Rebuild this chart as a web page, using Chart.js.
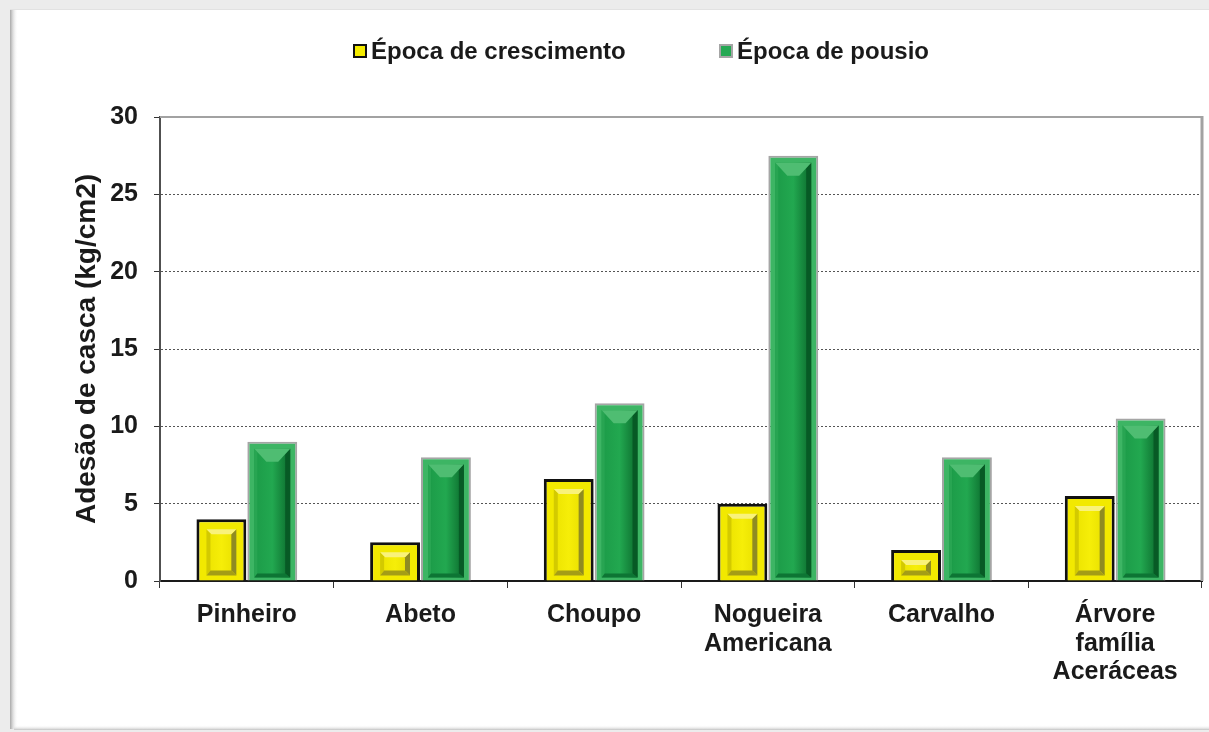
<!DOCTYPE html>
<html>
<head>
<meta charset="utf-8">
<script src="https://cdn.jsdelivr.net/npm/chart.js@4.4.0/dist/chart.umd.min.js"></script>
<style>
  html, body { margin: 0; padding: 0; background: #ececec; }
  canvas { display: block; }
</style>
</head>
<body>
<canvas id="myChart" width="1209" height="732"></canvas>
<script>
// data
const categories = ['Pinheiro', 'Abeto', 'Choupo', ['Nogueira', 'Americana'], 'Carvalho', ['Árvore', 'família', 'Aceráceas']];
const seriesNames = ['Época de crescimento', 'Época de pousio'];
const crescimento = [4, 2.5, 6.6, 5, 2, 5.5];
const pousio = [9, 8, 11.5, 27.5, 8, 10.5];
const yMin = 0, yMax = 30, yStep = 5;

const FONT = '"Liberation Sans", Arial, sans-serif';

// grey page + white panel behind the chart
const panelPlugin = {
  id: 'panel',
  beforeDraw(chart) {
    const ctx = chart.ctx;
    ctx.save();
    ctx.fillStyle = '#ececec';
    ctx.fillRect(0, 0, chart.width, chart.height);
    ctx.fillStyle = '#ffffff';
    ctx.fillRect(10, 10, chart.width - 10, 719);
    let g = ctx.createLinearGradient(10, 0, 18, 0);
    g.addColorStop(0, '#a9a9a9');
    g.addColorStop(0.3, '#d4d4d4');
    g.addColorStop(1, 'rgba(255,255,255,0)');
    ctx.fillStyle = g;
    ctx.fillRect(10, 10, 8, 719);
    g = ctx.createLinearGradient(0, 725, 0, 730);
    g.addColorStop(0, 'rgba(255,255,255,0)');
    g.addColorStop(1, '#c4c4c4');
    ctx.fillStyle = g;
    ctx.fillRect(14, 725, chart.width - 14, 5);
    ctx.fillStyle = '#e2e2e2';
    ctx.fillRect(10, 9, chart.width - 10, 1);
    ctx.restore();
  }
};

// grey frame on top and right of the plot area
const framePlugin = {
  id: 'frame',
  beforeDatasetsDraw(chart) {
    const {ctx, chartArea: a} = chart;
    ctx.save();
    ctx.strokeStyle = '#a2a2a2';
    ctx.lineWidth = 2;
    ctx.beginPath();
    ctx.moveTo(a.left, a.top);
    ctx.lineTo(a.right, a.top);
    ctx.stroke();
    ctx.lineWidth = 3;
    ctx.beginPath();
    ctx.moveTo(a.right, a.top - 1);
    ctx.lineTo(a.right, a.bottom);
    ctx.stroke();
    ctx.restore();
  }
};

function quad(ctx, pts, color) {
  ctx.fillStyle = color;
  ctx.beginPath();
  ctx.moveTo(pts[0][0], pts[0][1]);
  for (let i = 1; i < pts.length; i++) ctx.lineTo(pts[i][0], pts[i][1]);
  ctx.closePath();
  ctx.fill();
}

// bevelled look on each bar, using the bar elements laid out by Chart.js
const bevelPlugin = {
  id: 'bevel',
  afterDatasetsDraw(chart) {
    const ctx = chart.ctx;
    chart.data.datasets.forEach((ds, di) => {
      const st = ds.bevel;
      const meta = chart.getDatasetMeta(di);
      meta.data.forEach(bar => {
        const p = bar.getProps(['x', 'y', 'base', 'width'], true);
        const bw = ds.borderWidth;
        const L = p.x - p.width / 2 + bw + st.inset;
        const R = p.x + p.width / 2 - bw - st.inset;
        const T = p.y + bw + st.inset;
        const B = p.base - st.inset + 2;
        if (R - L < 10 || B - T < 10) return;
        ctx.save();
        const g = ctx.createLinearGradient(L, 0, R, 0);
        g.addColorStop(0, st.face[0]);
        g.addColorStop(0.5, st.face[1]);
        g.addColorStop(1, st.face[2]);
        ctx.fillStyle = g;
        ctx.fillRect(L, T, R - L, B - T);
        const e = st.edge;
        quad(ctx, [[L, T], [L + e.l, T + e.l], [L + e.l, B - e.b], [L, B]], st.left);
        quad(ctx, [[R, T], [R, B], [R - e.r, B - e.b], [R - e.r, T + e.r]], st.right);
        quad(ctx, [[L, B], [L + e.l, B - e.b], [R - e.r, B - e.b], [R, B]], st.bottom);
        quad(ctx, [[L, T], [R, T], [R - e.tw, T + e.t], [L + e.tw, T + e.t]], st.top);
        ctx.restore();
      });
    });
  }
};

// legend drawn from the dataset labels and colours
const legendPlugin = {
  id: 'simpleLegend',
  afterDraw(chart) {
    const ctx = chart.ctx;
    const xs = [353, 719];
    ctx.save();
    chart.data.datasets.forEach((ds, i) => {
      const x = xs[i], y = 44;
      ctx.fillStyle = ds.borderColor;
      ctx.fillRect(x, y, 14, 14);
      ctx.fillStyle = ds.legendFill;
      ctx.fillRect(x + 2, y + 2, 10, 10);
      ctx.fillStyle = '#1a1a1a';
      ctx.font = 'bold 24px ' + FONT;
      ctx.textBaseline = 'middle';
      ctx.textAlign = 'left';
      ctx.fillText(ds.label, x + 18, y + 8);
    });
    ctx.restore();
  }
};

const ctx = document.getElementById('myChart').getContext('2d');

const barChart = new Chart(ctx, {
  type: 'bar',
  data: {
    labels: categories,
    datasets: [{
      label: seriesNames[0],
      data: crescimento,
      backgroundColor: '#f2e900',
      borderColor: '#111111',
      borderWidth: 3,
      legendFill: '#f5ec00',
      categoryPercentage: 0.586,
      barPercentage: 0.98,
      bevel: {
        inset: 7,
        face: ['#ece300', '#f6ee08', '#e8df00'],
        edge: { l: 4, r: 5, b: 5, t: 5, tw: 5 },
        left: '#d3ca00',
        right: '#8f8b22',
        bottom: '#a49d16',
        top: '#f9f27a'
      }
    }, {
      label: seriesNames[1],
      data: pousio,
      backgroundColor: '#3db564',
      borderColor: '#a5a5a5',
      borderWidth: 2,
      legendFill: '#25a853',
      categoryPercentage: 0.586,
      barPercentage: 0.98,
      bevel: {
        inset: 5,
        face: ['#1c9b48', '#22a850', '#0b6a2c'],
        edge: { l: 3, r: 5, b: 4, t: 13, tw: 12 },
        left: '#28a552',
        right: '#075a25',
        bottom: '#0d7534',
        top: '#4fbd72'
      }
    }]
  },
  options: {
    responsive: false,
    animation: false,
    layout: { padding: { left: 0, right: 7, top: 117, bottom: 0 } },
    plugins: {
      legend: { display: false },
      tooltip: { enabled: false }
    },
    scales: {
      x: {
        z: 1,
        grid: { display: true, drawOnChartArea: false, drawTicks: true, tickLength: 7, color: '#333', offset: true },
        border: { display: true, color: '#1a1a1a', width: 2 },
        ticks: {
          color: '#1a1a1a',
          padding: 13,
          maxRotation: 0,
          autoSkip: false,
          font: { family: FONT, size: 25, weight: 'bold', lineHeight: 1.14 }
        },
        afterFit(scale) { scale.height = 151; }
      },
      y: {
        min: yMin,
        max: yMax,
        grid: { color: '#555', lineWidth: 1, tickLength: 6, tickColor: '#333' },
        border: { display: true, color: '#505050', width: 2, dash: [2, 2] },
        ticks: {
          stepSize: yStep,
          color: '#1a1a1a',
          padding: 16,
          font: { family: FONT, size: 25, weight: 'bold' }
        },
        title: {
          display: true,
          text: 'Adesão de casca (kg/cm2)',
          color: '#1a1a1a',
          padding: { top: 70, bottom: 0 },
          font: { family: FONT, size: 28, weight: 'bold', lineHeight: 1.2 }
        },
        afterFit(scale) { scale.width = 160; }
      }
    }
  },
  plugins: [panelPlugin, framePlugin, bevelPlugin, legendPlugin]
});
</script>
</body>
</html>
